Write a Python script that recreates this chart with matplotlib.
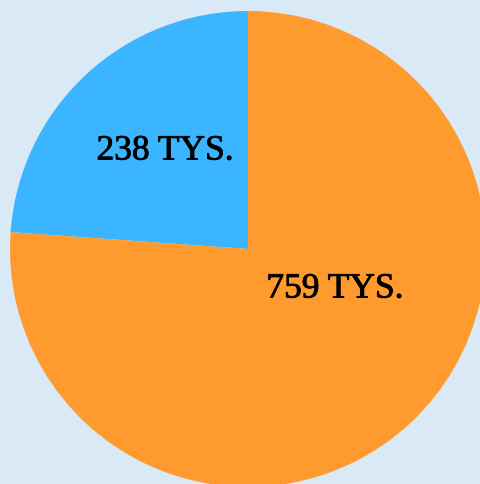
import matplotlib.pyplot as plt
import matplotlib.patheffects as pe

# values (thousands)
labels = ['238 TYS.', '759 TYS.']
values = [238, 759]
colors = ['#3bb5ff', '#ff9a2e']
bg = '#d9e9f5'

W, H = 481, 484
fig = plt.figure(figsize=(W / 100, H / 100), dpi=100, facecolor=bg)
ax = fig.add_axes([0, 0, 1, 1])
ax.set_facecolor(bg)

ax.pie(values, colors=colors, startangle=90, counterclock=True,
       center=(248, H - 249), radius=238, frame=True,
       wedgeprops=dict(linewidth=0))
ax.set_xlim(0, W)
ax.set_ylim(0, H)
ax.set_aspect('equal')
ax.axis('off')

# label positions (pixels from top-left)
label_pos = [(165, 151), (335, 289)]
for txt, (x, y) in zip(labels, label_pos):
    ax.text(x, H - y, txt, ha='center', va='center', fontsize=25.5,
            family='Liberation Serif', color='black',
            path_effects=[pe.withStroke(linewidth=0.6, foreground='black')])

fig.savefig('out.png', dpi=100, facecolor=bg)
